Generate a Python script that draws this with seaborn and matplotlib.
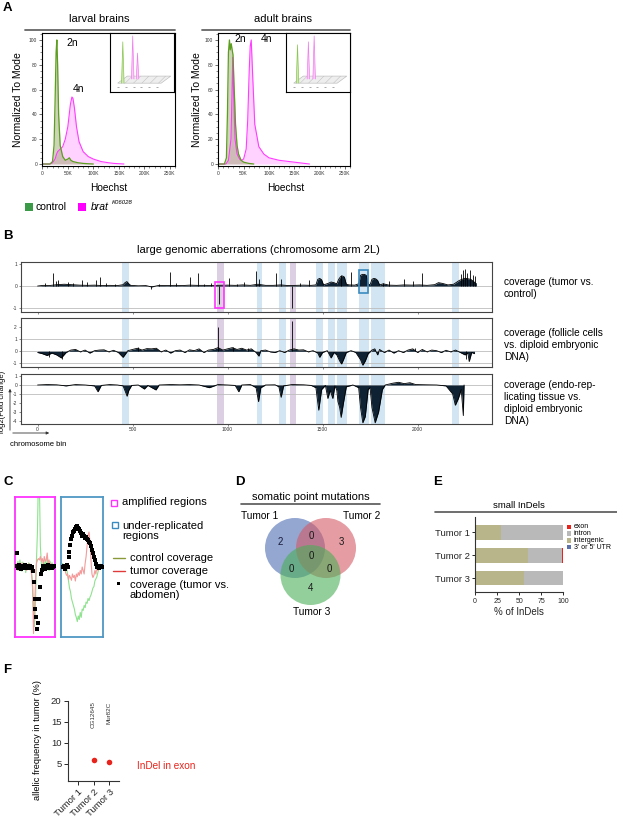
import numpy as np
import pandas as pd
import matplotlib
matplotlib.use('Agg')
import matplotlib.pyplot as plt
import seaborn as sns
from matplotlib.lines import Line2D
from matplotlib.patches import Rectangle, Polygon, Circle
from matplotlib.ticker import MultipleLocator

sns.set_theme(style='white')
plt.rcParams['font.family'] = ['Liberation Sans', 'DejaVu Sans']
plt.rcParams['hatch.linewidth'] = 0.3
plt.rcParams['axes.unicode_minus'] = False

# ------------------------------------------------------------------ data
# Panel A: flow cytometry histograms (Hoechst in K, normalized to mode)
larval_ctrl_x = [0, 15, 20, 23, 25, 27, 28.5, 30, 32, 35, 40, 45, 50, 53, 56, 60, 70, 80, 90, 100]
larval_ctrl_y = [0, 0, 2, 15, 50, 90, 100, 80, 40, 15, 6, 3, 4, 5, 3, 2, 1, 0.5, 0.2, 0]
larval_brat_x = [0, 15, 20, 25, 28, 30, 35, 40, 45, 50, 55, 58, 60, 63, 67, 72, 80, 90, 100, 115, 130, 140, 160]
larval_brat_y = [0, 0, 1, 4, 8, 10, 12, 14, 20, 30, 48, 54, 53, 45, 30, 18, 10, 6, 4, 2, 1, 0.5, 0]
adult_ctrl_x = [0, 12, 16, 18, 20, 22, 23.5, 25.5, 27, 29, 31, 34, 37, 40, 45, 50, 60, 70]
adult_ctrl_y = [0, 0, 5, 40, 90, 100, 92, 97, 93, 88, 65, 32, 15, 8, 3, 1.5, 0.5, 0]
adult_brat_x = [0, 15, 20, 25, 27, 28.5, 30, 33, 37, 42, 46, 50, 55, 58, 61, 63, 65, 68, 72, 80, 90, 100, 120, 140, 160, 180]
adult_brat_y = [0, 0, 3, 20, 55, 86, 60, 20, 8, 4, 3, 4, 12, 35, 75, 95, 100, 70, 32, 14, 8, 5, 3, 2, 1, 0]
inset_left_green = [(0.2, 0.85)]
inset_left_pink = [(0.355, 0.95), (0.43, 0.66)]
inset_right_green = [(0.18, 0.8)]
inset_right_pink = [(0.35, 0.85), (0.44, 0.95)]
legendA = ['control', 'brat']

# Panel B: coverage tracks (chromosome bin, log2 fold change)
track1 = [(0, 0.0), (30, 0.03), (60, 0.02), (100, 0.06), (140, 0.08), (180, 0.06), (220, 0.04), (260, 0.03),
          (300, 0.04), (340, 0.02), (380, 0.03), (420, 0.02), (450, 0.06), (460, 0.15), (470, 0.2), (480, 0.1),
          (490, 0.03), (530, 0.01), (570, 0.02), (600, -0.04), (640, 0.03), (680, 0.02), (720, 0.03), (760, 0.02),
          (800, 0.04), (840, 0.03), (880, 0.03), (920, 0.02), (940, 0.03), (1000, 0.04), (1040, 0.03), (1080, 0.05),
          (1120, 0.03), (1160, 0.08), (1200, 0.03), (1240, 0.03), (1280, 0.05), (1320, 0.02), (1360, 0.03),
          (1400, 0.04), (1440, 0.03), (1465, 0.05), (1475, 0.3), (1485, 0.34), (1495, 0.28), (1505, 0.05),
          (1530, 0.12), (1545, 0.18), (1560, 0.15), (1575, 0.1), (1585, 0.3), (1595, 0.42), (1605, 0.45),
          (1615, 0.4), (1625, 0.08), (1640, 0.05), (1670, 0.04), (1690, 0.1), (1700, 0.48), (1710, 0.52),
          (1720, 0.52), (1730, 0.48), (1740, 0.1), (1750, 0.05), (1760, 0.3), (1770, 0.34), (1780, 0.32),
          (1790, 0.25), (1800, 0.05), (1820, 0.1), (1850, 0.04), (1890, 0.03), (1930, 0.05), (1970, 0.04),
          (2010, 0.05), (2050, 0.03), (2090, 0.06), (2110, 0.15), (2130, 0.12), (2160, 0.05), (2190, 0.08),
          (2220, 0.25), (2250, 0.35), (2280, 0.3), (2310, 0.1)]
track1_spikes = [(40, 0.15), (79, 0.56), (96, 0.22), (110, 0.25), (158, 0.19), (188, 0.12), (233, 0.28),
                 (258, 0.19), (307, 0.28), (330, 0.4), (360, 0.12), (405, 0.1), (596, -0.15), (640, 0.1),
                 (696, 0.64), (728, 0.12), (802, 0.42), (842, 0.6), (877, 0.1), (912, 0.13), (954, -0.82),
                 (1010, 0.37), (1049, 0.1), (1089, 0.18), (1151, 0.67), (1163, 0.3), (1256, 0.56), (1282, 0.3),
                 (1338, -0.97), (1379, 0.15), (1431, 0.25), (1598, 0.5), (1650, 0.64), (1817, 0.12), (1852, 0.22),
                 (1931, 0.3), (1975, 0.22), (2022, 0.6), (2228, 0.55), (2240, 0.7), (2252, 0.75), (2262, 0.6),
                 (2275, 0.72), (2290, 0.5), (2300, 0.45)]
track2 = [(0, -0.1), (25, -0.2), (50, -0.35), (75, -0.15), (100, -0.3), (125, -0.55), (150, -0.1), (175, 0.1),
          (200, 0.15), (225, -0.05), (250, 0.1), (275, -0.15), (300, 0.05), (325, 0.1), (350, 0.12), (375, -0.05),
          (400, 0.08), (425, -0.1), (450, -0.5), (475, 0.05), (500, 0.15), (525, 0.25), (550, 0.1), (575, 0.22),
          (600, 0.2), (625, 0.25), (650, -0.05), (675, 0.1), (700, -0.15), (725, 0.05), (750, 0.1), (775, -0.1),
          (800, 0.12), (825, 0.05), (850, 0.2), (875, -0.1), (900, 0.1), (925, 0.15), (950, 0.3), (975, 0.1),
          (1000, 0.2), (1025, 0.3), (1050, 0.15), (1075, 0.25), (1100, 0.1), (1125, 0.2), (1150, -0.1),
          (1165, -0.4), (1175, 0.05), (1200, 0.1), (1225, -0.05), (1250, -0.1), (1275, 0.05), (1300, -0.1),
          (1325, 0.1), (1350, 0.2), (1375, 0.1), (1400, 0.12), (1425, -0.05), (1450, 0.05), (1475, -0.15),
          (1485, -0.5), (1500, -0.1), (1525, 0.05), (1545, -0.55), (1560, -0.1), (1575, -0.3), (1590, -0.8),
          (1600, -1.05), (1610, -0.7), (1625, -0.1), (1650, 0.05), (1675, -0.1), (1700, -0.7), (1712, -1.15),
          (1725, -0.8), (1740, -0.2), (1760, 0.1), (1775, 0.2), (1790, -0.3), (1800, 0.15), (1825, -0.1),
          (1850, 0.1), (1875, -0.15), (1900, 0.05), (1925, -0.1), (1950, 0.1), (1975, 0.2), (2000, -0.1),
          (2025, 0.15), (2050, -0.05), (2075, 0.1), (2100, 0.05), (2125, -0.1), (2150, 0.08), (2175, -0.05),
          (2200, 0.1), (2225, -0.1), (2250, -0.3), (2265, -0.15), (2272, -0.85), (2285, -0.1), (2300, -0.2)]
track2_spikes = [(60, -0.45), (130, -0.6), (530, 0.35), (952, 2.0), (1030, 0.35), (1110, 0.3), (1338, 2.5),
                 (1985, 0.3), (2255, -0.6)]
track3 = [(0, 0.0), (50, 0.05), (100, 0.02), (150, -0.1), (200, 0.05), (250, 0.0), (300, -0.1), (318, -0.75),
          (335, -0.05), (380, 0.05), (420, 0.0), (450, -0.1), (465, -0.9), (471, -1.25), (480, -0.6), (495, -0.05),
          (530, 0.0), (562, -0.45), (580, -0.05), (623, -0.55), (640, 0.0), (700, 0.05), (750, 0.02), (800, 0.05),
          (850, 0.0), (904, -0.3), (950, 0.05), (1000, 0.0), (1040, -0.05), (1059, -0.75), (1075, 0.0),
          (1120, 0.05), (1150, -0.3), (1163, -1.85), (1175, -0.3), (1200, 0.0), (1250, 0.02), (1270, -0.2),
          (1282, -1.37), (1295, -0.1), (1340, 0.05), (1400, 0.02), (1440, -0.05), (1465, -0.3), (1480, -2.8),
          (1495, -0.5), (1515, -0.05), (1528, -1.5), (1540, -0.6), (1554, -1.5), (1565, -0.1), (1575, -0.6),
          (1581, -1.85), (1590, -2.5), (1598, -3.6), (1610, -2.0), (1625, -0.2), (1660, 0.0), (1690, -0.3),
          (1700, -2.5), (1712, -4.2), (1725, -3.5), (1740, -0.5), (1750, -0.3), (1760, -2.5), (1777, -4.2),
          (1795, -3.0), (1815, -0.5), (1830, 0.0), (1870, 0.2), (1900, 0.3), (1930, 0.15), (1960, 0.25),
          (1990, 0.05), (2050, 0.02), (2100, 0.0), (2150, -0.1), (2185, -1.0), (2199, -2.25), (2215, -1.5),
          (2230, -0.5), (2241, -3.4), (2245, 0.0)]
bands_blue = [(446, 483), (1154, 1181), (1271, 1308), (1467, 1502), (1527, 1567), (1575, 1629),
              (1692, 1744), (1754, 1831), (2179, 2217)]
bands_purple = [(942, 979), (1331, 1358)]
box_amplified = (936, 983, -1.0, 0.2)
box_underrep = (1690, 1740, -0.3, 0.7)
track_labels = ['coverage (tumor vs.\ncontrol)',
                'coverage (follicle cells\nvs. diploid embryonic\nDNA)',
                'coverage (endo-rep-\nlicating tissue vs.\ndiploid embryonic\nDNA)']
bin_ticks = [0, 500, 1000, 1500, 2000]

# Panel C: zoomed coverage examples
c1_ratio = [0.02, 0.2, -0.02, 0.03, 0.0, -0.03, 0.02, 0.0, -0.02, 0.03, 0.0, 0.02, -0.02, 0.0, 0.01, -0.02, 0.0,
            -0.05, -0.22, -0.45, -0.6, -0.72, -0.88, -0.8, -0.45, -0.28, -0.1, -0.04, 0.02, 0.0, -0.03, 0.02, 0.0,
            0.03, -0.02, 0.0, 0.02, -0.01, 0.0, 0.02]
c1_ctrl = [0.05, -0.03, 0.08, -0.05, 0.1, 0.0, -0.06, 0.07, -0.02, 0.05, -0.08, 0.04, 0.0, 0.06, -0.04, 0.03, -0.1,
           -0.2, -0.6, -0.85, -0.5, 0.1, 0.5, 1.3, 1.2, 0.3, 0.05, -0.06, 0.08, 0.0, 0.1, -0.05, 0.12, 0.0, -0.05,
           0.08, -0.02, 0.06, 0.0, 0.03]
c1_tumor = [0.0, 0.05, -0.05, 0.03, 0.0, -0.04, 0.06, 0.0, -0.03, 0.04, 0.0, -0.05, 0.03, 0.0, 0.05, -0.03, -0.1,
            -0.3, -0.95, -0.6, -0.2, 0.05, 0.1, 0.12, 0.1, 0.15, 0.08, 0.12, 0.05, 0.15, 0.08, 0.1, 0.2, 0.05, 0.1,
            0.0, 0.05, 0.02, 0.0, 0.03]
c2_ratio = [0.0, 0.0, 0.02, -0.03, 0.0, 0.03, 0.0, 0.14, 0.22, 0.31, 0.4, 0.45, 0.5, 0.52, 0.55, 0.57, 0.58, 0.56,
            0.55, 0.52, 0.48, 0.45, 0.47, 0.44, 0.42, 0.43, 0.4, 0.38, 0.36, 0.34, 0.3, 0.25, 0.2, 0.15, 0.1, 0.05,
            0.0, 0.02, -0.02, 0.0, 0.01, 0.0]
c2_ctrl = [0.0, 0.05, -0.05, 0.03, -0.02, 0.0, -0.1, -0.2, -0.3, -0.35, -0.45, -0.5, -0.55, -0.6, -0.68, -0.72,
           -0.78, -0.7, -0.75, -0.65, -0.72, -0.6, -0.62, -0.55, -0.58, -0.5, -0.52, -0.45, -0.48, -0.43, -0.4,
           -0.35, -0.3, -0.28, -0.2, -0.17, -0.14, -0.08, -0.03, 0.0, 0.04, 0.0]
c2_tumor = [0.0, 0.03, -0.05, 0.0, -0.08, -0.12, -0.1, -0.18, -0.12, -0.15, -0.19, -0.1, -0.15, -0.12, -0.2, -0.1,
            -0.14, -0.08, -0.12, -0.05, -0.1, 0.0, -0.05, -0.1, 0.05, 0.15, 0.3, 0.45, 0.5, 0.35, 0.1, -0.1, -0.15,
            -0.12, -0.05, -0.1, 0.0, -0.05, 0.02, 0.0, -0.03, 0.0]

# Panel D: Venn counts
venn_sets = ['Tumor 1', 'Tumor 2', 'Tumor 3']
venn_only = [2, 3, 4]
venn_pairs = {'12': 0, '13': 0, '23': 0}
venn_all = 0

# Panel E: small InDels (% of InDels)
e_tumors = ['Tumor 1', 'Tumor 2', 'Tumor 3']
e_classes = ['exon', 'intron', 'intergenic', "3' or 5' UTR"]
e_utr = [0, 0, 1.5]
e_intergenic = [29.5, 60.5, 54]
e_intron = [70.5, 38, 44]
e_exon = [0, 1.5, 0.5]

# Panel F: allelic frequency of exon InDels
f_tumors = ['Tumor 1', 'Tumor 2', 'Tumor 3']
f_points_tumor = ['Tumor 2', 'Tumor 3']
f_points_freq = [5.8, 5.45]
f_genes = ['CG12645', 'Mur82C']

# ------------------------------------------------------------------ figure helpers
W, H = 617, 817
fig = plt.figure(figsize=(W / 100, H / 100), dpi=100)
fig.patch.set_facecolor('white')


def R(x0, y0, x1, y1):
    return [x0 / W, 1 - y1 / H, (x1 - x0) / W, (y1 - y0) / H]


def T(x, y, s, **kw):
    kw.setdefault('va', 'center')
    kw.setdefault('color', 'black')
    return fig.text(x / W, 1 - y / H, s, **kw)


def HL(x0, x1, y, color='#555555', lw=1.2):
    fig.add_artist(Line2D([x0 / W, x1 / W], [1 - y / H, 1 - y / H], color=color, lw=lw,
                          transform=fig.transFigure))


def label(x, y, s):
    T(x, y, s, fontsize=9.5, fontweight='bold', ha='left')


GREEN_LINE = '#5c9e1f'
GREEN_FILL = '#94a060'
MAG_LINE = '#ff3cff'
MAG_FILL = '#ff9cff'

# ------------------------------------------------------------------ Panel A
label(3, 8, 'A')
A_specs = [
    dict(x0=42, x1=175, title='larval brains', tcx=99, lx0=25, ylx=18, hx=109,
         cx=larval_ctrl_x, cy=larval_ctrl_y, bx=larval_brat_x, by=larval_brat_y,
         ins=(110, 174), ig=inset_left_green, ip=inset_left_pink, n2=(66, 43), n4=(73, 89)),
    dict(x0=218, x1=350, title='adult brains', tcx=283, lx0=202, ylx=197, hx=286,
         cx=adult_ctrl_x, cy=adult_ctrl_y, bx=adult_brat_x, by=adult_brat_y,
         ins=(286, 350), ig=inset_right_green, ip=inset_right_pink, n2=(234, 39), n4=(261, 39)),
]
for sp in A_specs:
    ax = fig.add_axes(R(sp['x0'], 33, sp['x1'], 166))
    ax.fill_between(sp['bx'], sp['by'], 0, color=MAG_FILL, alpha=0.45, lw=0)
    ax.fill_between(sp['cx'], sp['cy'], 0, color=GREEN_FILL, alpha=0.45, lw=0)
    sns.lineplot(x=sp['bx'], y=sp['by'], ax=ax, color=MAG_LINE, lw=0.8, estimator=None, sort=False)
    sns.lineplot(x=sp['cx'], y=sp['cy'], ax=ax, color=GREEN_LINE, lw=0.9, estimator=None, sort=False)
    ax.set_xlim(-0.6, 260)
    ax.set_ylim(-1.6, 105.6)
    ax.set_xlabel('')
    ax.set_ylabel('')
    ax.set_xticks([0, 50, 100, 150, 200, 250])
    ax.set_xticklabels(['0', '50K', '100K', '150K', '200K', '250K'])
    ax.set_yticks([0, 20, 40, 60, 80, 100])
    ax.xaxis.set_minor_locator(MultipleLocator(10))
    ax.yaxis.set_minor_locator(MultipleLocator(5))
    ax.tick_params(which='major', length=2.5, width=0.5, labelsize=3.5, pad=1, direction='out',
                   bottom=True, left=True, colors='#333333')
    ax.tick_params(which='minor', length=1.2, width=0.4, bottom=True, left=True, colors='#333333')
    for s in ax.spines.values():
        s.set_color('black')
        s.set_linewidth(0.8)
    T(sp['tcx'], 19, sp['title'], fontsize=8, ha='center')
    HL(sp['lx0'], sp['x1'], 30, color='#666666', lw=1.3)
    T(sp['ylx'], 100, 'Normalized To Mode', fontsize=7.5, rotation=90, ha='center')
    T(sp['hx'], 188, 'Hoechst', fontsize=7.3, ha='center')
    T(sp['n2'][0], sp['n2'][1], '2n', fontsize=7.5, ha='left')
    T(sp['n4'][0], sp['n4'][1], '4n', fontsize=7.5, ha='left')
    # inset (3D offset overview)
    ia = fig.add_axes(R(sp['ins'][0], 33, sp['ins'][1], 92))
    ia.set_facecolor('white')
    ia.set_xlim(0, 1)
    ia.set_ylim(0, 1)
    ia.set_xticks([])
    ia.set_yticks([])
    for s in ia.spines.values():
        s.set_color('black')
        s.set_linewidth(0.8)
    ia.add_patch(Polygon([(0.12, 0.15), (0.80, 0.15), (0.95, 0.27), (0.27, 0.27)], closed=True,
                         facecolor='#eeeeee', edgecolor='#b5b5b5', hatch='////', lw=0.4))
    for pos, h in sp['ig']:
        ia.fill([pos - 0.02, pos, pos + 0.02], [0.15, h, 0.15], color='#cfe8b0', lw=0)
        ia.plot([pos - 0.02, pos, pos + 0.02], [0.15, h, 0.15], color='#8ac752', lw=0.5)
    for pos, h in sp['ip']:
        ia.fill([pos - 0.02, pos, pos + 0.02], [0.22, h, 0.22], color='#f8c8f4', lw=0)
        ia.plot([pos - 0.02, pos, pos + 0.02], [0.22, h, 0.22], color='#f080ee', lw=0.5)
    ia.plot([0.13, 0.25, 0.37, 0.49, 0.61, 0.73], [0.09] * 6, ls='none', marker='_', ms=2,
            color='#888888', mew=0.5)

# legend A
fig.add_artist(Rectangle((24.5 / W, 1 - 211 / H), 8 / W, 8 / H, transform=fig.transFigure,
                         color='#3a9a48', lw=0))
T(36, 207, legendA[0], fontsize=7.5, ha='left')
fig.add_artist(Rectangle((78 / W, 1 - 211 / H), 8 / W, 8 / H, transform=fig.transFigure,
                         color='#ff00ff', lw=0))
T(91, 207, legendA[1], fontsize=7.5, ha='left', style='italic')
T(112, 203, 'K06028', fontsize=4.3, ha='left', style='italic')

# ------------------------------------------------------------------ Panel B
label(3, 236, 'B')
T(258, 250, 'large genomic aberrations (chromosome arm 2L)', fontsize=8, ha='center')
rows = [(262.3, 312), (318, 367), (374, 423.7)]
ylims = [(-1.16, 1.06), (-1.3, 2.75), (-4.3, 1.22)]
yticks = [[-1, 0, 1], [-1, 0, 1, 2], [-4, -3, -2, -1, 0, 1]]
hlines = [[-1, 0], [-1, 0, 1], [-1, 0]]
label_y = [288, 345.5, 402.5]
tracks = [track1, track2, track3]
spikes = [track1_spikes, track2_spikes, []]
NAVY = '#0e2233'
for i in range(3):
    ax = fig.add_axes(R(20.5, rows[i][0], 492, rows[i][1]))
    for a, b in bands_blue:
        ax.axvspan(a, b, color='#d2e5f3', lw=0, zorder=0)
    for a, b in bands_purple:
        ax.axvspan(a, b, color='#dccfe4', lw=0, zorder=0)
    for hv in hlines[i]:
        ax.axhline(hv, color='#bdbdbd', lw=0.6, zorder=1)
    bins = [p[0] for p in tracks[i]]
    vals = [p[1] for p in tracks[i]]
    ax.fill_between(bins, vals, 0, color=NAVY, lw=0, zorder=2)
    sns.lineplot(x=bins, y=vals, ax=ax, color='black', lw=0.6, estimator=None, sort=False, zorder=3)
    if spikes[i]:
        ax.vlines([p[0] for p in spikes[i]], 0, [p[1] for p in spikes[i]], color='black', lw=0.6, zorder=3)
    ax.set_xlim(-90, 2392)
    ax.set_ylim(*ylims[i])
    ax.set_xlabel('')
    ax.set_ylabel('')
    ax.set_xticks(bin_ticks)
    ax.set_yticks(yticks[i])
    ax.tick_params(length=1.5, width=0.4, labelsize=3.5, pad=1, bottom=True, left=True, colors='#333333')
    if i < 2:
        ax.set_xticklabels([])
    for s in ax.spines.values():
        s.set_color('#444444')
        s.set_linewidth(0.8)
    if i == 0:
        a0, a1, b0, b1 = box_amplified
        ax.add_patch(Rectangle((a0, b0), a1 - a0, b1 - b0, fill=False, edgecolor='#ff33ff', lw=1.2, zorder=4))
        a0, a1, b0, b1 = box_underrep
        ax.add_patch(Rectangle((a0, b0), a1 - a0, b1 - b0, fill=False, edgecolor='#3a8cc0', lw=1.2, zorder=4))
    T(504, label_y[i], track_labels[i], fontsize=7.3, ha='left', linespacing=1.25)

T(3, 402, 'log2(Fold change)', fontsize=5.5, rotation=90, ha='center')
fig.add_artist(matplotlib.patches.FancyArrowPatch((10 / W, 1 - 433 / H), (10 / W, 1 - 386 / H),
               transform=fig.transFigure, arrowstyle='-|>', mutation_scale=4, lw=0.6, color='#333333'))
fig.add_artist(matplotlib.patches.FancyArrowPatch((10 / W, 1 - 433 / H), (52 / W, 1 - 433 / H),
               transform=fig.transFigure, arrowstyle='-|>', mutation_scale=4, lw=0.6, color='#333333'))
T(10, 445, 'chromosome bin', fontsize=5.5, ha='left')

# ------------------------------------------------------------------ Panel C
label(3, 482, 'C')
c_specs = [(15, 55, '#ff33ff', c1_ratio, c1_ctrl, c1_tumor),
           (60.7, 102.7, '#4f97c4', c2_ratio, c2_ctrl, c2_tumor)]
for x0, x1, ec, ratio, ctrl, tum in c_specs:
    ax = fig.add_axes(R(x0, 497, x1, 637))
    idx = list(range(len(ratio)))
    sns.lineplot(x=idx, y=ctrl, ax=ax, color='#8fe28f', lw=0.8, estimator=None, sort=False)
    sns.lineplot(x=idx, y=tum, ax=ax, color='#f49a9a', lw=0.8, estimator=None, sort=False)
    sns.scatterplot(x=idx, y=ratio, ax=ax, color='black', marker='s', s=7, linewidth=0, zorder=4)
    ax.set_xlim(-1, len(ratio))
    ax.set_ylim(-1.0, 1.0)
    ax.set_xticks([])
    ax.set_yticks([])
    ax.set_xlabel('')
    ax.set_ylabel('')
    for s in ax.spines.values():
        s.set_color(ec)
        s.set_linewidth(1.3)

fig.add_artist(Rectangle((111 / W, 1 - 505.5 / H), 6 / W, 6 / H, transform=fig.transFigure,
                         fill=False, edgecolor='#ff33ff', lw=1.0))
T(122, 502, 'amplified regions', fontsize=8, ha='left')
fig.add_artist(Rectangle((112 / W, 1 - 527.5 / H), 6 / W, 6 / H, transform=fig.transFigure,
                         fill=False, edgecolor='#3a8cc0', lw=1.0))
T(122, 531, 'under-replicated\nregions', fontsize=8, ha='left', linespacing=1.1)
HL(113, 125, 558, color='#8a9a3a', lw=1.0)
T(130, 558, 'control coverage', fontsize=8, ha='left')
HL(113, 125, 571, color='#e03a3a', lw=1.0)
T(130, 571, 'tumor coverage', fontsize=8, ha='left')
fig.add_artist(Rectangle((116.5 / W, 1 - 585 / H), 3 / W, 3 / H, transform=fig.transFigure,
                         color='black', lw=0))
T(130, 590, 'coverage (tumor vs.\nabdomen)', fontsize=8, ha='left', linespacing=1.1)

# ------------------------------------------------------------------ Panel D
label(235, 482, 'D')
T(311, 497, 'somatic point mutations', fontsize=8, ha='center')
HL(241, 380, 504, color='#555555', lw=1.2)
axd = fig.add_axes(R(255, 510, 370, 620))
axd.set_xlim(255, 370)
axd.set_ylim(620, 510)
axd.axis('off')
centers = [(295, 548), (326, 548), (310.5, 575)]
vcols = ['#4c6cb3', '#d45a64', '#4caf58']
for (cx_, cy_), col in zip(centers, vcols):
    axd.add_patch(Circle((cx_, cy_), 30, facecolor=col, alpha=0.6, lw=0))
axd.text(280, 542, str(venn_only[0]), fontsize=7, ha='center', va='center', color='#1a1a3a')
axd.text(341, 542, str(venn_only[1]), fontsize=7, ha='center', va='center', color='#1a1a1a')
axd.text(310, 588, str(venn_only[2]), fontsize=7, ha='center', va='center', color='#1a1a1a')
axd.text(311, 536, str(venn_pairs['12']), fontsize=7, ha='center', va='center', color='#1a1a1a')
axd.text(291, 569, str(venn_pairs['13']), fontsize=7, ha='center', va='center', color='#1a1a1a')
axd.text(329, 569, str(venn_pairs['23']), fontsize=7, ha='center', va='center', color='#1a1a1a')
axd.text(311, 556, str(venn_all), fontsize=7, ha='center', va='center', color='#1a1a1a')
T(260, 516, venn_sets[0], fontsize=7.3, ha='center')
T(362, 516, venn_sets[1], fontsize=7.3, ha='center')
T(312, 612, venn_sets[2], fontsize=7.3, ha='center')

# ------------------------------------------------------------------ Panel E
label(433, 482, 'E')
T(519, 506, 'small InDels', fontsize=6.8, ha='center')
HL(435, 617, 512, color='#555555', lw=1.2)
axe = fig.add_axes(R(475, 516.7, 563.3, 592))
ypos = np.arange(len(e_tumors))
ecol = {'exon': '#e8231b', 'intron': '#b9b9b9', 'intergenic': '#b8b58a', "3' or 5' UTR": '#5b6fa8'}
left = np.zeros(len(e_tumors))
for name, vals in [("3' or 5' UTR", e_utr), ('intergenic', e_intergenic), ('intron', e_intron), ('exon', e_exon)]:
    axe.barh(ypos, vals, left=left, height=0.65, color=ecol[name], lw=0)
    left = left + np.array(vals)
axe.set_ylim(2.61, -0.69)
axe.set_xlim(0, 100)
axe.set_yticks(ypos)
axe.set_yticklabels(e_tumors)
axe.set_xticks([0, 25, 50, 75, 100])
axe.tick_params(axis='y', length=2.5, width=0.7, labelsize=6.8, pad=1, left=True)
axe.tick_params(axis='x', length=2.5, width=0.7, labelsize=5, pad=1.5, bottom=True)
for s in ['top', 'right']:
    axe.spines[s].set_visible(False)
for s in ['left', 'bottom']:
    axe.spines[s].set_color('#333333')
    axe.spines[s].set_linewidth(0.8)
axe.set_xlabel('% of InDels', fontsize=7, labelpad=2)
for k, name in enumerate(e_classes):
    yy = 526.7 + k * 6.8
    fig.add_artist(Rectangle((566.5 / W, 1 - (yy + 2.2) / H), 4.4 / W, 4.4 / H, transform=fig.transFigure,
                             color=ecol[name], lw=0))
    T(574, yy, name, fontsize=5, ha='left')

# ------------------------------------------------------------------ Panel F
label(3, 670, 'F')
axf = fig.add_axes(R(67.7, 700.7, 119, 780.7))
fpos = {t: i for i, t in enumerate(f_tumors)}
sns.scatterplot(x=[fpos[t] for t in f_points_tumor], y=f_points_freq, ax=axf, color='#e8231b',
                s=16, linewidth=0, zorder=3)
axf.set_xlim(-0.63, 2.61)
axf.set_ylim(1.0, 20)
axf.set_xticks(range(len(f_tumors)))
axf.set_xticklabels(f_tumors, rotation=45, ha='right', rotation_mode='anchor')
axf.set_yticks([5, 10, 15, 20])
axf.tick_params(axis='both', length=3, width=0.7, labelsize=6.8, pad=1.5, bottom=True, left=True)
axf.set_xlabel('')
axf.set_ylabel('')
for s in ['top', 'right']:
    axf.spines[s].set_visible(False)
for s in ['left', 'bottom']:
    axf.spines[s].set_color('#333333')
    axf.spines[s].set_linewidth(0.8)
for t, g in zip(f_points_tumor, f_genes):
    axf.text(fpos[t], 19.8, g, rotation=90, fontsize=4.5, ha='center', va='top', color='#333333')
T(37, 740, 'allelic frequency in tumor (%)', fontsize=6.7, rotation=90, ha='center')
T(137, 766, 'InDel in exon', fontsize=7.2, ha='left', color='#e8231b')

fig.savefig('out.png', dpi=100, facecolor='white')
